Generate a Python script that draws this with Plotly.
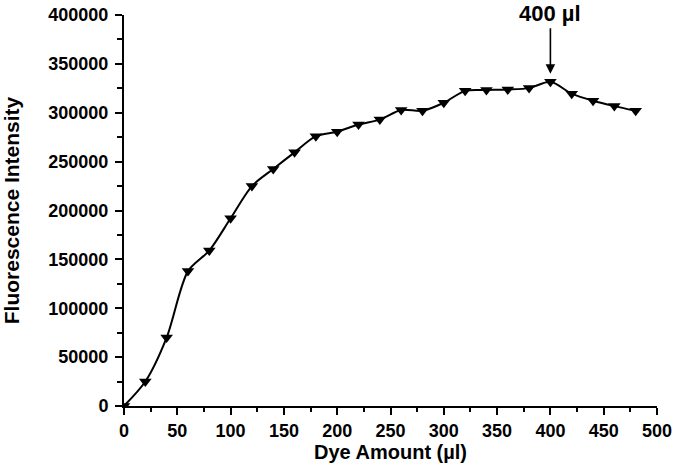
import plotly.graph_objects as go

dye_amount = [0, 20, 40, 60, 80, 100, 120, 140, 160, 180, 200, 220, 240,
              260, 280, 300, 320, 340, 360, 380, 400, 420, 440, 460, 480]
intensity = [0, 25000, 70000, 138000, 159000, 192000, 225000, 242500, 259500,
             276000, 280600, 288000, 293000, 302800, 302000, 310200, 322400,
             323200, 323800, 325200, 331600, 319500, 312200, 306800, 302000]

x_ticks = [0, 50, 100, 150, 200, 250, 300, 350, 400, 450, 500]
y_ticks = [0, 50000, 100000, 150000, 200000, 250000, 300000, 350000, 400000]

peak_x = 400
peak_y = 331600
peak_label = "400 µl"

FONT = "Liberation Sans, Arial, sans-serif"

fig = go.Figure()
fig.add_trace(go.Scatter(
    x=dye_amount, y=intensity, mode="lines+markers",
    line=dict(color="black", width=2, shape="spline", smoothing=0.8),
    marker=dict(symbol="triangle-down", size=11, color="black"),
    showlegend=False,
))

fig.add_annotation(
    x=peak_x, y=peak_y, xref="x", yref="y", text="", showarrow=True,
    ax=0, ay=-55, arrowhead=2, arrowsize=1.2, arrowwidth=1.6,
    arrowcolor="black", standoff=8,
)
fig.add_annotation(
    x=peak_x, y=1.005, xref="x", yref="paper", text=peak_label,
    showarrow=False, yanchor="middle", xanchor="center",
    font=dict(family=FONT, size=22, color="black", weight="bold"),
)

axis_common = dict(
    showline=True, linewidth=2, linecolor="black", showgrid=False,
    zeroline=False, ticks="outside", tickwidth=2, tickcolor="black",
    ticklen=7, mirror=False, automargin=False,
    tickfont=dict(family=FONT, size=18, color="black", weight="bold"),
)

fig.update_xaxes(
    range=[0, 500], tickvals=x_ticks,
    minor=dict(dtick=25, ticks="outside", ticklen=4, tickwidth=2,
               tickcolor="black", showgrid=False),
    title=dict(text="Dye Amount (µl)", standoff=0,
               font=dict(family=FONT, size=20, color="black", weight="bold")),
    **axis_common,
)
fig.update_yaxes(
    range=[0, 400000], tickvals=y_ticks, tickformat="d",
    ticklabelstandoff=3,
    minor=dict(dtick=25000, ticks="outside", ticklen=5, tickwidth=2,
               tickcolor="black", showgrid=False),
    title=dict(text="Fluorescence Intensity", standoff=29,
               font=dict(family=FONT, size=21, color="black", weight="bold")),
    **axis_common,
)

fig.update_layout(
    width=675, height=466,
    margin=dict(l=124, r=18, t=15, b=60),
    plot_bgcolor="white", paper_bgcolor="white",
)

fig.write_html("out.html", config={"displayModeBar": False},
               post_script="document.body.style.margin='0';")
